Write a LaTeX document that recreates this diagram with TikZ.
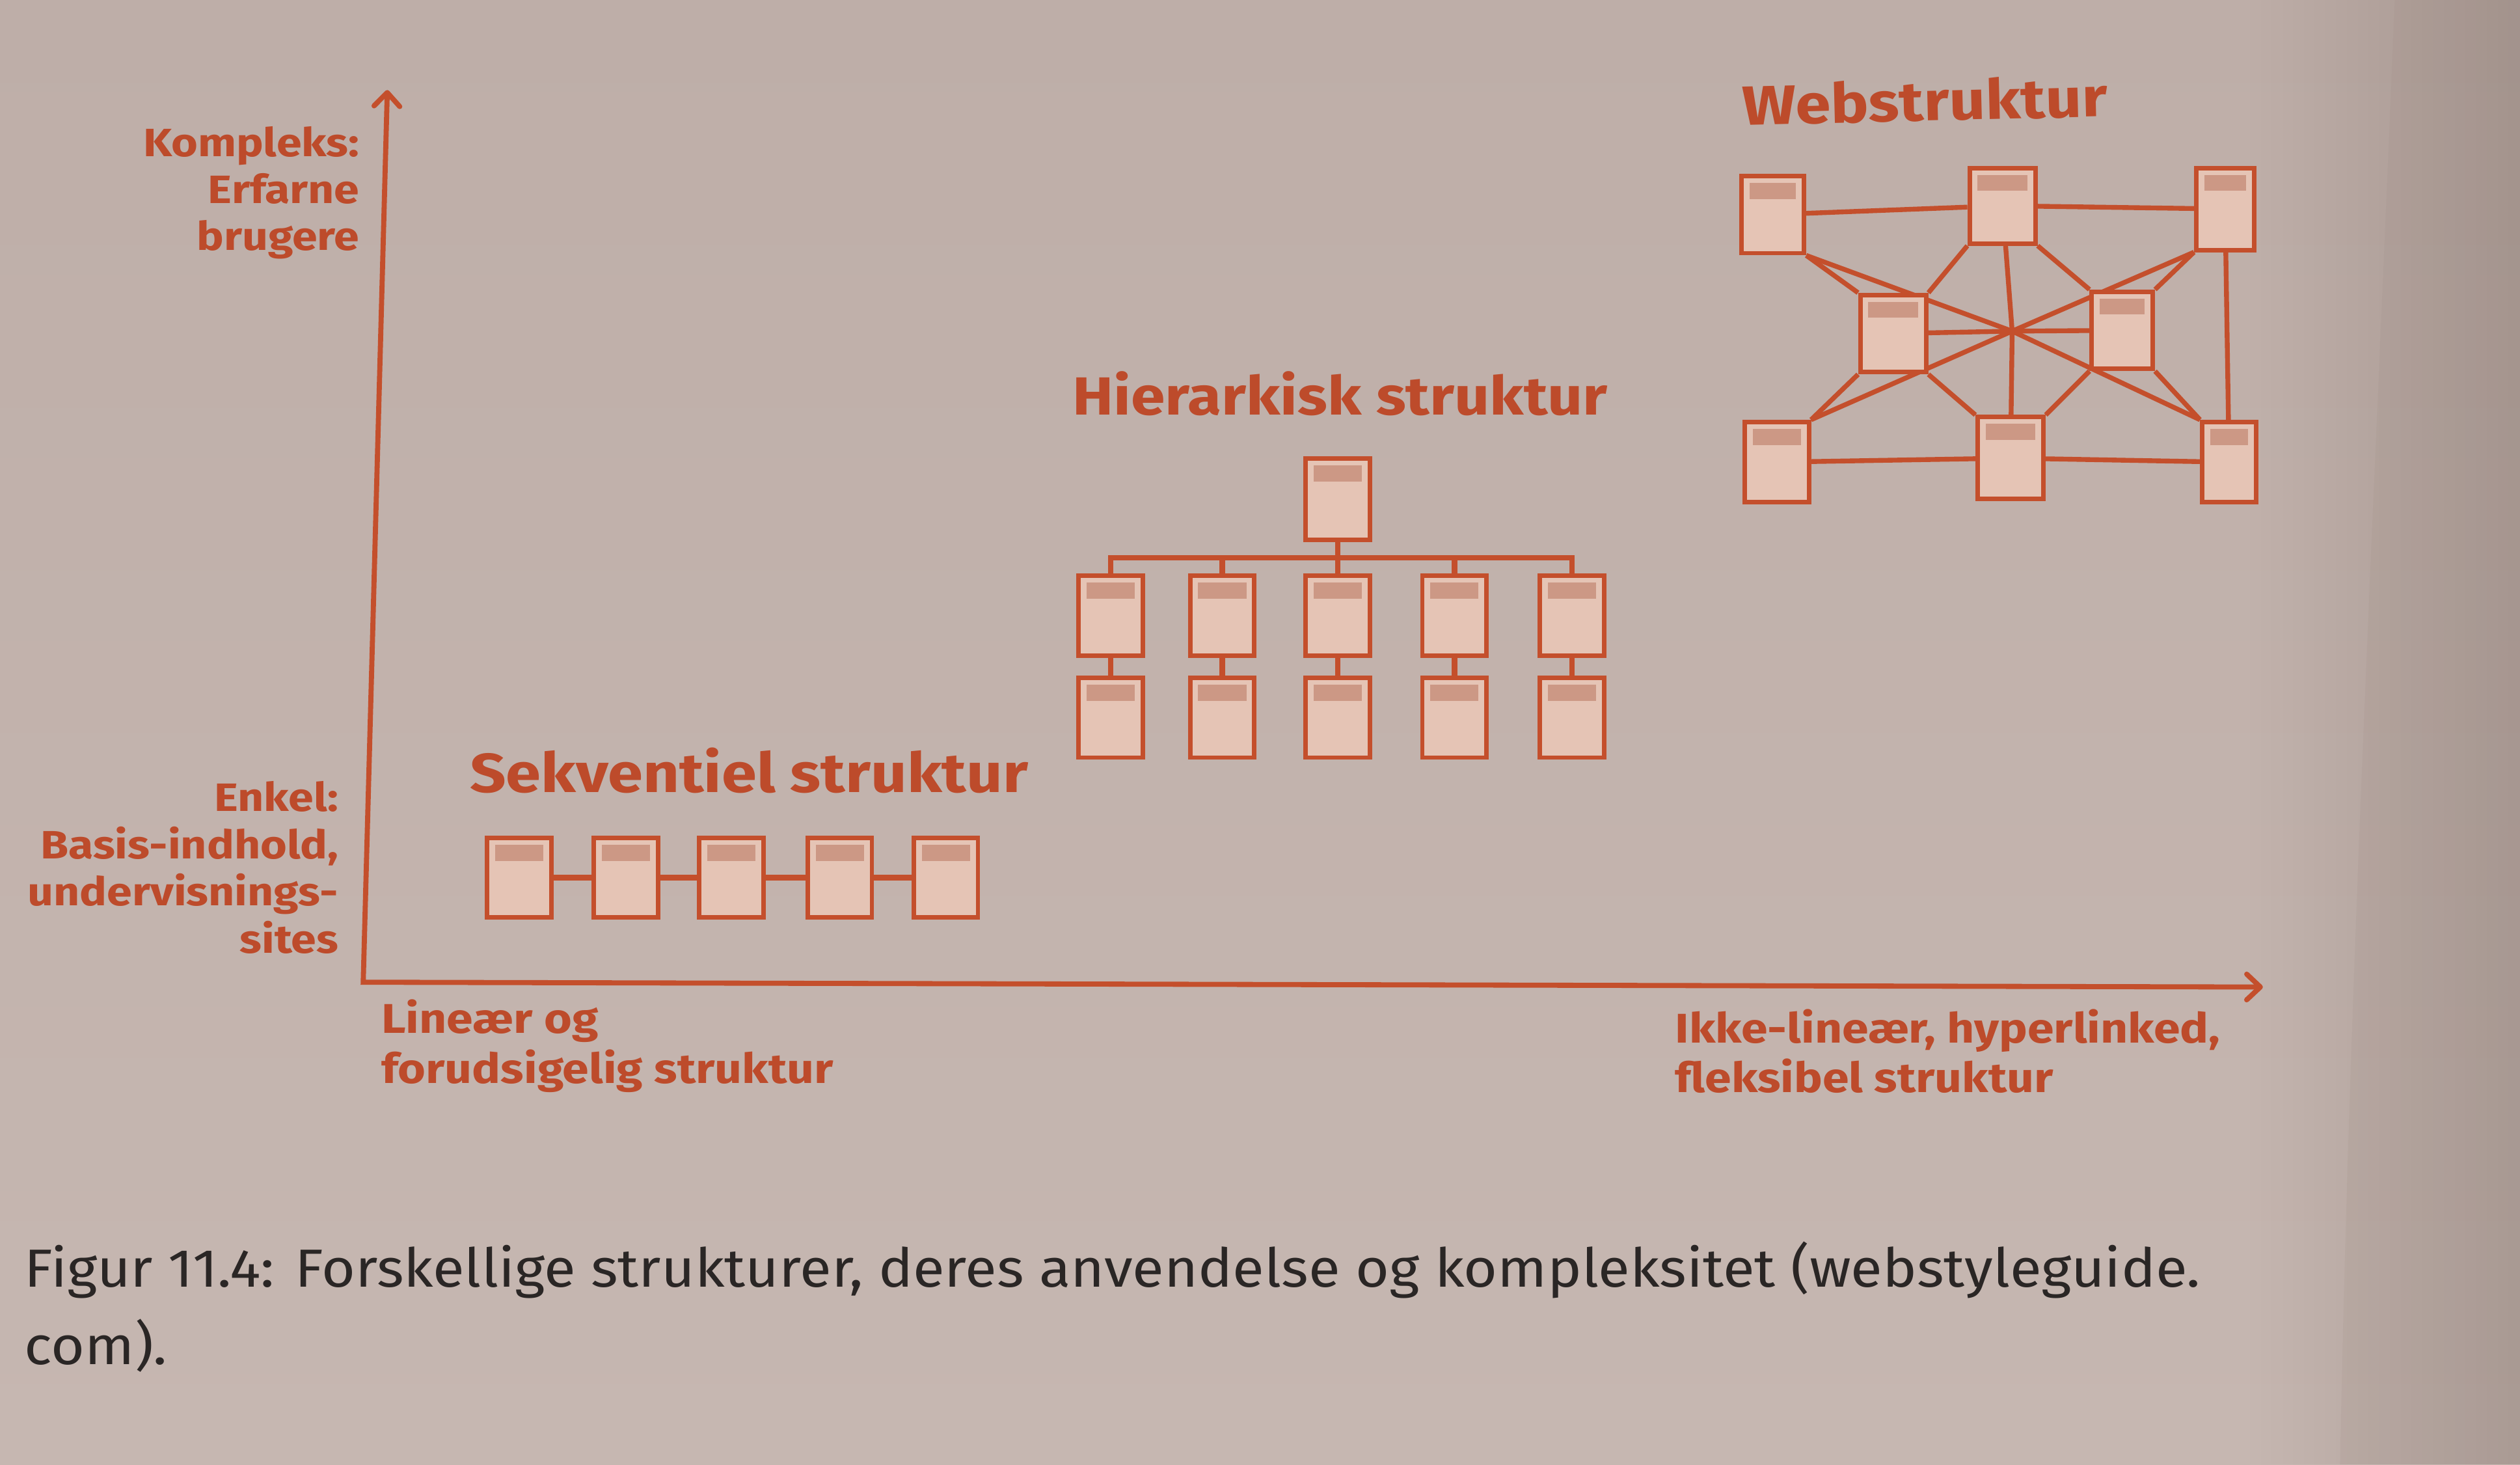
\documentclass[tikz,border=0pt]{standalone}
\usepackage{fontspec}
\setmainfont{Fira Sans}[FakeStretch=1.08]
\newfontfamily\labelfont{Fira Sans}[FakeStretch=1.15]
\usetikzlibrary{arrows.meta}

\definecolor{papertop}{HTML}{BEAEA8}
\definecolor{papermid}{HTML}{CABBB5}
\definecolor{paperbot}{HTML}{C6B7B1}
\definecolor{guttertone}{HTML}{9C8A81}
\definecolor{ink}{HTML}{C44F2C}
\definecolor{pagefill}{HTML}{E5C4B5}
\definecolor{headfill}{HTML}{CC9885}
\definecolor{labelink}{HTML}{BD4B2B}
\definecolor{captionink}{HTML}{2A2625}

\pgfdeclarelayer{paper}
\pgfdeclarelayer{links}
\pgfsetlayers{paper,links,main}

\tikzset{
  page/.style={rectangle, draw=ink, line width=1.6pt, fill=pagefill, inner sep=0pt,
    minimum width=0.8cm, minimum height=0.99cm,
    path picture={\fill[headfill]
      ([xshift=0.1cm,yshift=-0.085cm]path picture bounding box.north west) rectangle
      ([xshift=-0.1cm,yshift=-0.285cm]path picture bounding box.north east);}},
  link/.style={draw=ink, line width=1.7pt},
  chainlink/.style={draw=ink, line width=2.1pt},
  treelink/.style={draw=ink, line width=1.9pt, line join=miter},
  axis/.style={draw=ink, line width=1.8pt, line join=miter,
    arrows={Straight Barb[length=0.17cm,width=0.32cm,round]-Straight Barb[length=0.17cm,width=0.32cm,round]}},
  axislabel/.style 2 args={text=labelink, inner sep=0pt,
    font=\labelfont\bfseries\fontsize{#1}{#2}\selectfont},
  heading/.style={text=labelink, inner sep=0pt, anchor=base west,
    font=\labelfont\bfseries\fontsize{#1}{#1}\selectfont},
  caption/.style={text=captionink, inner sep=0pt, align=left,
    font=\fontsize{19}{27.5}\selectfont},
}

\begin{document}
\begin{tikzpicture}[x=0.02cm, y=-0.02cm]
\useasboundingbox (0,0) rectangle (1568,911);

% paper, darkening softly towards the page edge
\begin{pgfonlayer}{paper}
  \shade[top color=papertop, middle color=papermid, bottom color=paperbot]
    (0,0) rectangle (1568,911);
  \foreach \i in {0,...,24}
    \fill[guttertone, opacity=0.014] (1400+\i*6.7,0) rectangle (1568,911);
  \fill[guttertone, opacity=0.14]
    (1490,0) .. controls (1478,300) and (1462,600) .. (1456,911)
    -- (1568,911) -- (1568,0) -- cycle;
\end{pgfonlayer}

% axes
\coordinate (origin) at (226,611);
\coordinate (ytip) at (241,56);
\coordinate (xtip) at (1408,614);
\draw[axis] (ytip) -- (origin) -- (xtip);

% axis labels
\node[axislabel={14}{16.6}, anchor=north east, align=right] (kompleks) at (224,78.5)
  {Kompleks:\\Erfarne\\brugere};
\node[axislabel={14}{16.8}, anchor=north east, align=right] (enkel) at (211,485.5)
  {Enkel:\\Basis-indhold,\\undervisnings-\\sites};
\node[axislabel={14.7}{17.6}, anchor=north west, align=left] (linear) at (237,621.5)
  {Lineær og\\forudsigelig struktur};
\node[axislabel={14.7}{17.6}, anchor=north west, align=left] (nonlinear) at (1042,627.5)
  {Ikke-lineær, hyperlinked,\\fleksibel struktur};

% headings
\node[heading=19.5] (seqtitle) at (292,493) {Sekventiel struktur};
\node[heading=19] (hiertitle) at (667,258) {Hierarkisk struktur};
\node[heading=19.6, rotate=1.4] (webtitle) at (1084,78) {Webstruktur};

% sequential structure
\begin{scope}[every node/.append style={minimum width=0.82cm, minimum height=1.02cm}]
  \node[page] (s1) at (323,546) {};
  \node[page] (s2) at (389.5,546) {};
  \node[page] (s3) at (455,546) {};
  \node[page] (s4) at (522.5,546) {};
  \node[page] (s5) at (588.5,546) {};
\end{scope}

% hierarchical structure
\node[page, minimum height=1.01cm] (htop) at (832.5,310.5) {};
\node[page] (h11) at (691,383) {};
\node[page] (h12) at (760.5,383) {};
\node[page] (h13) at (832.5,383) {};
\node[page] (h14) at (905,383) {};
\node[page] (h15) at (978,383) {};
\node[page] (h21) at (691,446.5) {};
\node[page] (h22) at (760.5,446.5) {};
\node[page] (h23) at (832.5,446.5) {};
\node[page] (h24) at (905,446.5) {};
\node[page] (h25) at (978,446.5) {};
\coordinate (bus) at (832.5,347);

% web structure
\node[page, minimum width=0.78cm, minimum height=0.96cm] (wTL) at (1103,133.5) {};
\node[page, minimum width=0.82cm, minimum height=0.94cm] (wTM) at (1246,128) {};
\node[page, minimum width=0.72cm, minimum height=1.02cm] (wTR) at (1384.5,130) {};
\node[page, minimum width=0.82cm, minimum height=0.96cm] (wML) at (1178,207.5) {};
\node[page, minimum width=0.76cm, minimum height=0.96cm] (wMR) at (1320.5,205.5) {};
\node[page, minimum width=0.8cm, minimum height=1.0cm] (wBL) at (1105.5,287.5) {};
\node[page, minimum width=0.82cm, minimum height=1.02cm] (wBM) at (1251,285) {};
\node[page, minimum width=0.67cm, minimum height=1.0cm] (wBR) at (1387,287.5) {};
\coordinate (hub) at (1252,206);

% connectors, behind the pages
\begin{pgfonlayer}{links}
  \draw[chainlink] (s1) -- (s2) -- (s3) -- (s4) -- (s5);

  \draw[treelink] (htop) -- (h13);
  \draw[treelink] (h11) -- (h11 |- bus) -- (h15 |- bus) -- (h15);
  \draw[treelink] (h12) -- (h12 |- bus);
  \draw[treelink] (h14) -- (h14 |- bus);
  \foreach \c in {1,...,5} \draw[treelink] (h1\c) -- (h2\c);

  \draw[link] (wTL) -- (wTM) -- (wTR) -- (wBR) -- (wBM) -- (wBL) -- cycle;
  \draw[link] (wTM) -- (hub) -- (wBM);
  \draw[link] (wML) -- (hub) -- (wMR);
  \draw[link] (wTL.south east) -- (hub);
  \draw[link] (wTR.south west) -- (hub);
  \draw[link] (wBL.north east) -- (hub);
  \draw[link] (wBR.north west) -- (hub);
  \draw[link] (wTL.south east) -- (wML.north west);
  \draw[link] (wTR.south west) -- (wMR.north east);
  \draw[link] (wBL.north east) -- (wML.south west);
  \draw[link] (wBR.north west) -- (wMR.south east);
  \draw[link] (wTM.south west) -- (wML.north east);
  \draw[link] (wTM.south east) -- (wMR.north west);
  \draw[link] (wBM.north west) -- (wML.south east);
  \draw[link] (wBM.north east) -- (wMR.south west);
\end{pgfonlayer}

% caption
\node[caption, anchor=north west] (caption) at (15,772)
  {Figur 11.4: Forskellige strukturer, deres anvendelse og kompleksitet (webstyleguide.\\com).};
\end{tikzpicture}
\end{document}
